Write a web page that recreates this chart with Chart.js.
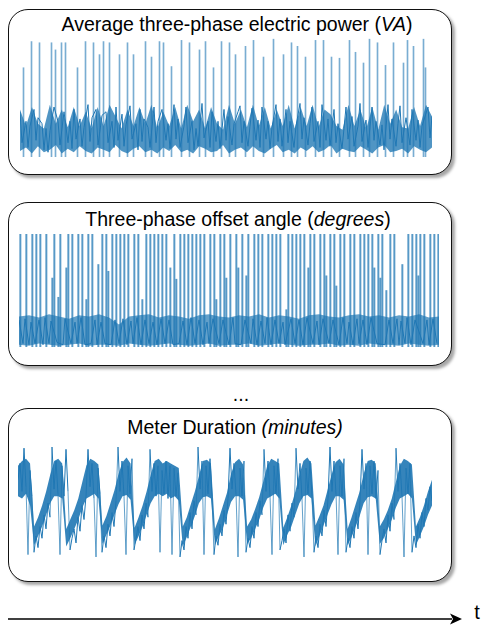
<!DOCTYPE html>
<html>
<head>
<meta charset="utf-8">
<script src="https://cdn.jsdelivr.net/npm/chart.js@4"></script>
<style>
  body { margin: 0; background: #fff; width: 482px; height: 625px; position: relative; overflow: hidden;
         font-family: "Liberation Sans", Arial, Helvetica, sans-serif; color: #000; }
  .box { position: absolute; box-sizing: border-box; border: 1.6px solid #111; border-radius: 20px;
         background: #fff; box-shadow: 3px 3px 3px rgba(0,0,0,0.35); }
  .title { position: absolute; transform: translate(-50%, -50%); font-size: 19.5px; white-space: nowrap; }
  .plot { position: absolute; }
</style>
</head>
<body>

<div class="box" style="left:8px;top:9px;width:444px;height:166px"></div>
<div class="box" style="left:8px;top:202px;width:444px;height:164px"></div>
<div class="box" style="left:8px;top:408px;width:444px;height:174px"></div>

<div class="title" style="left:237px;top:24px">Average three-phase electric power (<i>VA</i>)</div>
<div class="title" style="left:238px;top:219px">Three-phase offset angle (<i>degrees</i>)</div>
<div class="title" style="left:235px;top:427px">Meter Duration <i>(minutes)</i></div>
<div class="title" style="left:241px;top:394px">...</div>

<canvas class="plot" id="c1" width="412" height="119" style="left:20px;top:38px"></canvas>
<canvas class="plot" id="c2" width="420" height="113" style="left:19px;top:234px"></canvas>
<canvas class="plot" id="c3" width="414" height="117" style="left:18px;top:447px"></canvas>

<svg style="position:absolute;left:0;top:600px" width="482" height="25">
  <line x1="8" y1="19" x2="452" y2="19" stroke="#000" stroke-width="1.6"/>
  <polygon points="450,13.5 462,19 450,24.5 453,19" fill="#000"/>
</svg>
<div class="title" style="left:477px;top:612px;font-size:20px">t</div>

<script>
// values, scaled 0 (bottom of panel) .. 100 (top of panel)

// --- average three-phase power: raw trace (spikes + noise) ---
const powerVA = [
  38, 12, 75, 30, 8, 26, 97, 40, 14, 33, 96, 28, 6, 24, 4, 22,
  96, 42, 90, 30, 10, 96, 38, 96, 12, 30, 7, 40, 15, 75, 32, 9,
  25, 97, 44, 13, 33, 96, 40, 10, 86, 35, 97, 38, 12, 96, 30, 8,
  42, 14, 86, 36, 9, 27, 96, 43, 15, 86, 28, 6, 40, 13, 32, 97,
  25, 8, 84, 42, 12, 30, 97, 40, 96, 14, 28, 7, 76, 44, 15, 32,
  8, 98, 26, 42, 12, 96, 30, 6, 24, 9, 90, 45, 16, 97, 30, 8,
  38, 75, 13, 30, 7, 97, 40, 14, 34, 96, 10, 28, 86, 38, 43, 12,
  30, 93, 9, 26, 41, 98, 14, 31, 8, 42, 84, 15, 30, 7, 25, 99,
  44, 13, 32, 9, 86, 40, 12, 30, 96, 8, 26, 93, 45, 15, 33, 84,
  10, 28, 42, 13, 98, 30, 8, 44, 98, 14, 32, 9, 84, 40, 12, 28,
  83, 7, 24, 42, 15, 98, 34, 9, 88, 26, 45, 13, 79, 31, 8, 99,
  42, 14, 30, 96, 10, 27, 6, 77, 44, 15, 32, 96, 9, 28, 43, 12,
  79, 33, 98, 10, 40, 93, 14, 31, 8, 26, 99, 75, 42, 16, 34
];
// dense noise band of the same trace, upper / lower edge
const powerTop = [
  40, 26, 42, 28, 24, 44, 28, 40, 25, 42, 26, 38, 24, 42, 26, 44,
  34, 24, 40, 26, 42, 28, 44, 24, 38, 26, 42, 24, 44, 30, 40, 24,
  42, 28, 23, 44, 28, 40, 25, 44, 26, 42, 24, 40, 26, 44, 24, 42,
  26, 44, 25, 40, 36, 26, 23, 44, 26, 40, 24, 42, 23, 44, 28, 40,
  25, 24, 42, 26, 44, 34
];
const powerBottom = [
  5, 8, 3, 9, 4, 6, 10, 3, 7, 4, 9, 5, 3, 8, 6, 4,
  10, 5, 3, 7, 9, 4, 6, 3, 8, 5, 10, 4, 6, 3, 9, 7,
  4, 5, 10, 3, 6, 8, 4, 9, 5, 3, 7, 10, 4, 6, 3, 8,
  5, 9, 4, 6, 10, 3, 7, 5, 4, 9, 6, 3, 8, 10, 4, 5,
  7, 3, 9, 6, 4, 8
];

// --- three-phase offset angle ---
const offsetAngle = [
  24, 100, 3, 25, 100, 2, 22, 100, 3, 100, 24, 100, 2, 26, 100, 3,
  23, 61, 100, 4, 44, 100, 2, 25, 70, 100, 3, 100, 22, 3, 100, 26,
  100, 2, 42, 100, 3, 100, 24, 2, 73, 22, 100, 3, 100, 67, 2, 100,
  24, 100, 3, 100, 25, 100, 2, 100, 23, 3, 100, 26, 100, 2, 42, 24,
  100, 3, 100, 22, 100, 2, 100, 25, 100, 3, 100, 24, 70, 2, 100, 60,
  3, 100, 23, 100, 2, 100, 26, 100, 3, 100, 24, 100, 2, 100, 22, 3,
  100, 25, 100, 42, 3, 100, 24, 100, 61, 2, 100, 26, 3, 100, 70, 2,
  100, 24, 63, 100, 3, 25, 100, 2, 100, 23, 100, 3, 26, 100, 2, 100,
  24, 100, 3, 100, 22, 2, 33, 100, 25, 100, 3, 100, 24, 100, 2, 100,
  26, 70, 100, 3, 100, 23, 2, 100, 25, 100, 63, 3, 100, 24, 100, 54,
  2, 100, 26, 100, 3, 22, 100, 2, 100, 25, 3, 100, 24, 100, 2, 100,
  26, 100, 70, 3, 100, 61, 100, 2, 50, 24, 100, 3, 100, 25, 2, 23,
  73, 3, 26, 100, 2, 100, 24, 100, 63, 100, 3, 100, 24, 2, 100, 25,
  100, 3, 100
];
const angleTop = [
  27, 28, 26, 29, 27, 25, 28, 27, 29, 26, 20, 27, 28, 29, 26, 28,
  27, 25, 28, 29, 27, 26, 28, 27, 29, 26, 28, 27, 25, 28, 29, 27,
  26, 28, 29, 27, 28, 26, 28, 27, 29, 26, 27
];
const angleBottom = [
  2, 1, 3, 2, 1, 2, 3, 1, 2, 2, 1, 3, 2, 1, 2, 3,
  2, 1, 2, 3, 1, 2, 2, 3, 1, 2, 3, 2, 1, 2, 2, 3,
  1, 2, 1, 3, 2, 2, 1, 3, 2, 1, 2
];

// --- meter duration ---
const meterDuration = [
  72, 86, 62, 99, 66, 8, 80, 58, 10,
  24, 14, 32, 22, 42, 30, 52, 40, 100, 64, 88, 60, 8, 84, 58, 98, 62, 12,
  22, 30, 18, 40, 28, 50, 38, 58, 98, 66, 86, 56, 6, 82, 60, 10,
  24, 14, 34, 24, 44, 32, 54, 100, 62, 88, 58, 8, 84, 60, 90, 12,
  22, 32, 20, 42, 30, 52, 40, 98, 62, 86, 58, 84, 10, 80, 60, 88, 56, 84, 8, 82, 58, 78, 6,
  20, 12, 32, 22, 44, 30, 54, 42, 100, 64, 88, 8, 84, 60, 90, 58, 8,
  24, 16, 34, 24, 46, 34, 56, 99, 64, 86, 60, 6, 82, 58, 88, 10,
  22, 14, 32, 22, 44, 32, 54, 42, 98, 62, 88, 58, 8, 84, 60, 90, 12,
  20, 30, 18, 42, 28, 52, 40, 99, 64, 86, 56, 6, 82, 60, 88, 58, 10,
  24, 14, 34, 24, 46, 32, 56, 100, 62, 88, 60, 8, 84, 58, 90, 10,
  22, 14, 32, 22, 44, 30, 54, 98, 64, 86, 8, 84, 60, 88, 56, 80, 8,
  20, 30, 18, 42, 28, 52, 38, 99, 62, 86, 58, 6, 82, 60, 86, 10,
  24, 14, 34, 22, 44, 32, 56, 46, 66, 54
];
const meterTop = [
  84, 88, 90, 86,
  32, 40, 50, 62, 76, 88, 90, 86,
  30, 38, 46, 56, 70, 84, 90, 88, 85,
  33, 41, 52, 63, 77, 87, 91, 86,
  31, 40, 50, 62, 76, 88, 90, 86, 88, 86, 84, 82,
  32, 40, 51, 62, 75, 88, 89, 86,
  30, 39, 50, 61, 77, 87, 90, 85,
  32, 38, 47, 57, 70, 84, 90, 88, 86,
  31, 40, 50, 62, 76, 88, 91, 86,
  33, 41, 50, 63, 76, 87, 90, 85,
  30, 40, 51, 62, 77, 88, 89, 86,
  32, 38, 46, 56, 70, 84, 90, 88, 85,
  32, 40, 50, 62, 72
];
const meterBottom = [
  58, 56, 60, 50,
  16, 24, 32, 42, 52, 58, 58, 56,
  15, 22, 30, 38, 48, 56, 58, 60, 56,
  17, 25, 33, 42, 51, 58, 59, 55,
  16, 24, 32, 42, 52, 58, 60, 58, 60, 56, 58, 54,
  15, 23, 32, 41, 52, 57, 58, 56,
  16, 24, 31, 42, 53, 58, 58, 55,
  17, 22, 30, 38, 48, 56, 58, 60, 56,
  16, 25, 32, 42, 52, 58, 59, 56,
  15, 24, 33, 42, 51, 58, 58, 55,
  16, 23, 32, 41, 52, 57, 58, 56,
  17, 22, 30, 38, 48, 56, 58, 60, 56,
  16, 24, 32, 42, 50
];

const blue = '#1f77b4';

// spikeCut: samples above it are drawn as hairline spikes (bars), the rest as the noisy line
function drawSignal(id, trace, top, bottom, opts) {
  const cut = opts.spikeCut;
  const lineData = cut ? trace.map(v => v > cut ? null : v) : trace;
  const spikeData = cut ? trace.map(v => v > cut ? v : null) : trace.map(() => null);
  const ctx = document.getElementById(id).getContext('2d');
  return new Chart(ctx, {
    type: 'line',
    data: {
      labels: trace.map((v, i) => i),
      datasets: [{
        type: 'bar',
        data: spikeData,
        backgroundColor: opts.spikeColor,
        barThickness: opts.spikeWidth,
        borderWidth: 0,
        order: 0
      }, {
        data: lineData,
        borderColor: blue,
        borderWidth: 1,
        pointRadius: 0,
        tension: 0,
        spanGaps: true,
        fill: false,
        order: 1,
        segment: {
          borderColor: s => Math.abs(s.p1.parsed.y - s.p0.parsed.y) > 45 ? 'rgba(31,119,180,0.7)' : blue
        }
      }, {
        data: top,
        xAxisID: 'x2',
        borderWidth: 0,
        pointRadius: 0,
        tension: 0,
        fill: '+1',
        backgroundColor: opts.bandColor,
        order: 2
      }, {
        data: bottom,
        xAxisID: 'x2',
        borderWidth: 0,
        pointRadius: 0,
        tension: 0,
        fill: false,
        order: 3
      }]
    },
    options: {
      responsive: false,
      animation: false,
      devicePixelRatio: 1,
      layout: { padding: 0 },
      plugins: { legend: { display: false }, tooltip: { enabled: false } },
      scales: {
        x: { display: false, offset: false },
        x2: { type: 'category', labels: top.map((v, i) => i), display: false, offset: false },
        y: { display: false, min: 0, max: 100 }
      }
    }
  });
}

drawSignal('c1', powerVA, powerTop, powerBottom,
  { spikeCut: 60, spikeColor: 'rgba(31,119,180,0.6)', spikeWidth: 1, bandColor: 'rgba(31,119,180,0.78)' });
drawSignal('c2', offsetAngle, angleTop, angleBottom,
  { spikeCut: 30, spikeColor: 'rgba(31,119,180,0.75)', spikeWidth: 1.3, bandColor: 'rgba(31,119,180,0.7)' });
drawSignal('c3', meterDuration, meterTop, meterBottom,
  { spikeCut: 0, bandColor: 'rgba(31,119,180,0.9)' });
</script>
</body>
</html>
